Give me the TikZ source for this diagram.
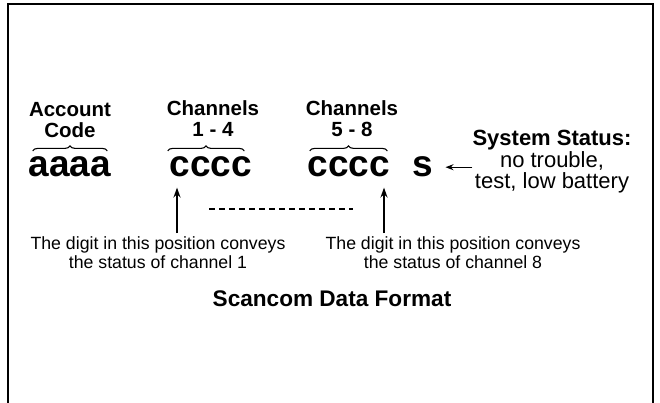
\documentclass[tikz,border=0pt]{standalone}
\usepackage{fontspec}
\setmainfont{Liberation Sans}
\usetikzlibrary{arrows.meta,decorations.pathreplacing}

\begin{document}
\begin{tikzpicture}[
        x=1pt, y=-1pt,
        hdr/.style={font=\fontsize{20.5}{21}\selectfont\bfseries,
                    align=center, anchor=base, inner sep=0pt},
        code/.style={font=\fontsize{37}{37}\selectfont\bfseries,
                     anchor=base, inner sep=0pt},
        stat/.style={font=\fontsize{22}{21.5}\selectfont,
                     align=center, anchor=base, inner sep=0pt},
        note/.style={font=\fontsize{17.7}{18.5}\selectfont,
                     align=center, anchor=base, inner sep=0pt},
        ttl/.style={font=\fontsize{22.6}{23}\selectfont\bfseries,
                    anchor=base, inner sep=0pt},
        grp/.style={decorate, decoration={brace, amplitude=5pt},
                    line width=1.1pt},
        arr/.style={-{Stealth[length=10pt, width=7pt]}, line width=1.8pt},
        sarr/.style={-{Stealth[length=8pt, width=6pt]}, line width=1.3pt}
      ]
        \useasboundingbox (0,0) rectangle (660,403);
        \draw[line width=2pt] (7.5,403) -- (7.5,4) -- (653,4) -- (653,403);

        \node[hdr] (acct) at (70,138)  {Account\\Code};
        \node[hdr] (chA)  at (213,137) {Channels\\1 - 4};
        \node[hdr] (chB)  at (352,137) {Channels\\5 - 8};

        \node[code] (aaaa) at (70,177)  {aaaa};
        \node[code] (ccA)  at (211,177) {cccc};
        \node[code] (ccB)  at (349,177) {cccc};
        \node[code] (sys)  at (423,177) {s};

        \draw[grp] ([shift={(4,-6)}]aaaa.north west) -- ([shift={(-4,-6)}]aaaa.north east);
        \draw[grp] ([shift={(-2,-6)}]ccA.north west) -- ([shift={(-8,-6)}]ccA.north east);
        \draw[grp] ([shift={(2,-6)}]ccB.north west) -- ([shift={(-3,-6)}]ccB.north east);

        \node[stat] (stat) at (552,189)
          {\textbf{System Status:}\\no trouble,\\test, low battery};
        \draw[sarr] (stat.west |- sys.center) -- ([xshift=12pt]sys.east);

        \coordinate (tailA) at (177,233);
        \coordinate (tailB) at (384,233);
        \draw[arr] (tailA) -- ([yshift=-10pt]tailA |- ccA.south);
        \draw[arr] (tailB) -- ([yshift=-10pt]tailB |- ccB.south);

        \coordinate (dotL) at (209,209);
        \coordinate (dotR) at (353,209);
        \draw[line width=1.4pt, dash pattern=on 6pt off 4pt] (dotL) -- (dotR);

        \node[note] (noteA) at (158,268)
          {The digit in this position conveys\\the status of channel 1};
        \node[note] (noteB) at (453,268)
          {The digit in this position conveys\\the status of channel 8};

        \node[ttl] (ttl) at (332,306) {Scancom Data Format};
      \end{tikzpicture}
\end{document}
